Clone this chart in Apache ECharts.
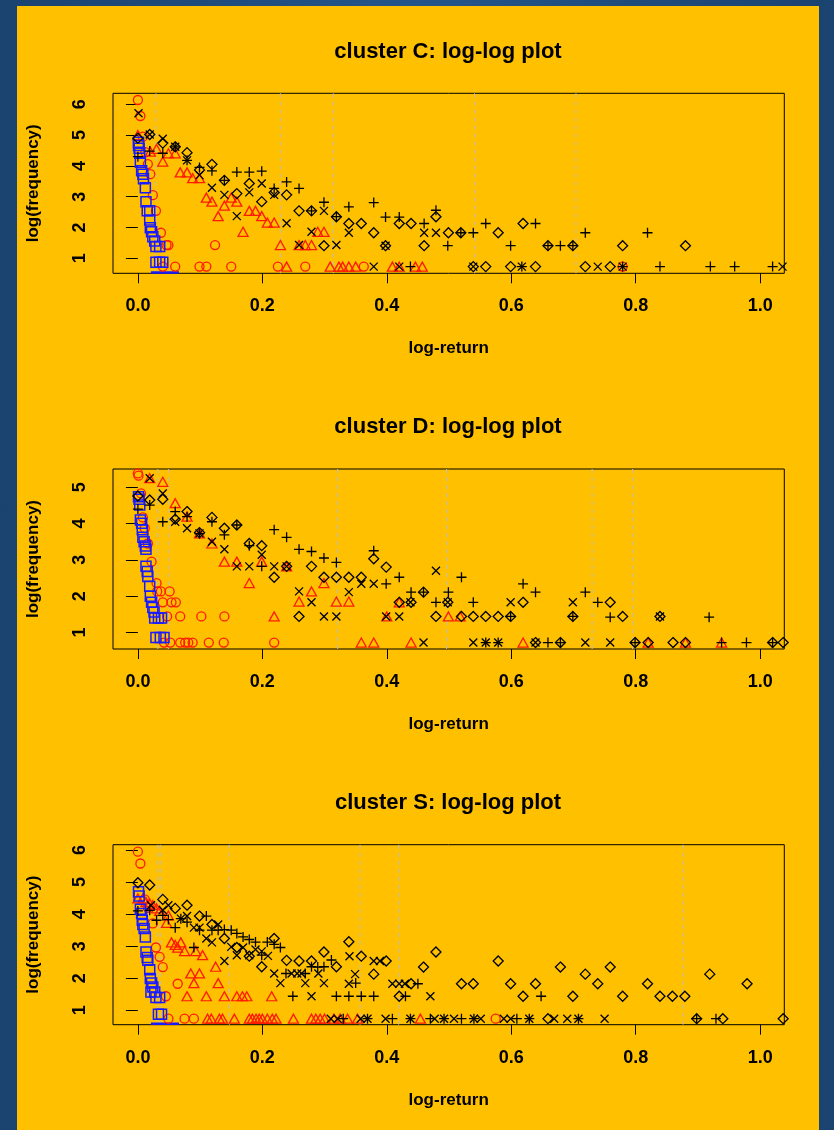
<!DOCTYPE html>
<html>
<head>
<meta charset="utf-8">
<title>cluster log-log plots</title>
<script src="https://cdn.jsdelivr.net/npm/echarts@6/dist/echarts.min.js"></script>
<style>
  html, body { margin: 0; padding: 0; }
  body { width: 834px; height: 1130px; overflow: hidden;
         background: linear-gradient(90deg, #1b4370 0%, #24558a 50%, #1b4370 100%); }
  #panel { position: absolute; left: 17px; top: 6px; width: 802px; height: 1124px; background: #FFC000; }
  #chart { width: 802px; height: 1124px; }
</style>
</head>
<body>
<div id="panel"><div id="chart"></div></div>
<script>
// ---- axes ----
var xTicks = [0, 0.2, 0.4, 0.6, 0.8, 1.0];
var xRange = [-0.04, 1.0388];
var yRangeC = [0.513, 6.357], yTicksC = [1, 2, 3, 4, 5, 6];
var yRangeD = [0.543, 5.503], yTicksD = [1, 2, 3, 4, 5];
var yRangeS = [0.553, 6.166], yTicksS = [1, 2, 3, 4, 5, 6];
var titles = ['cluster C: log-log plot', 'cluster D: log-log plot', 'cluster S: log-log plot'];

// dashed vertical reference lines (log-return)
var vLinesC = [0.029, 0.229, 0.314, 0.541, 0.704];
var vLinesD = [0.032, 0.049, 0.321, 0.496, 0.730, 0.795];
var vLinesS = [0.032, 0.036, 0.147, 0.357, 0.419, 0.876];

// blue squares at log(1) that are cut by the bottom of the box: x extent
var cBlueClip = [0.021, 0.066];
var sBlueClip = [0.021, 0.066];

// ---- cluster C : [log-return, log(frequency)] ----
var cCircle = [[0.000,6.14],[0.004,5.62],[0.008,4.95],[0.012,4.45],[0.016,4.06],[0.020,3.73],[0.024,3.05],[0.029,2.54],
  [0.037,1.83],[0.046,1.43],[0.049,1.43],[0.124,1.43],[0.040,0.73],[0.060,0.73],[0.099,0.73],[0.110,0.73],[0.150,0.73],
  [0.225,0.73],[0.269,0.73],[0.363,0.73],[0.779,0.73]];
var cTri = [[0.000,5.00],[0.020,4.46],[0.030,4.55],[0.040,4.14],[0.049,4.41],[0.060,4.41],[0.068,3.79],[0.079,3.79],
  [0.088,3.60],[0.099,3.60],[0.110,2.97],[0.119,2.84],[0.129,2.37],[0.139,2.71],[0.150,2.97],[0.159,2.84],[0.169,1.86],
  [0.179,2.54],[0.189,2.54],[0.199,2.37],[0.208,2.16],[0.219,2.16],[0.229,1.43],[0.239,0.73],[0.259,1.43],[0.269,1.43],
  [0.279,1.43],[0.289,1.86],[0.299,1.86],[0.309,0.73],[0.323,0.73],[0.329,0.73],[0.339,0.73],[0.350,0.73],[0.409,0.73],
  [0.420,0.73],[0.446,0.73],[0.457,0.73]];
var cSquare = [[0.001,4.77],[0.001,4.66],[0.002,4.57],[0.003,4.41],[0.004,4.12],[0.006,3.84],[0.008,3.73],[0.009,3.58],
  [0.012,3.29],[0.013,2.84],[0.015,2.54],[0.019,2.54],[0.019,2.24],[0.020,1.99],[0.022,1.86],[0.024,1.70],[0.027,1.56],
  [0.029,1.38],[0.035,1.38],[0.029,0.87],[0.035,0.87],[0.040,0.87]];
var cPlus = [[0.000,4.30],[0.019,4.48],[0.040,4.41],[0.060,4.62],[0.079,4.18],[0.099,3.95],[0.119,3.84],[0.139,3.53],
  [0.159,3.80],[0.179,3.80],[0.199,3.83],[0.219,3.27],[0.239,3.48],[0.259,3.27],[0.279,2.54],[0.299,2.82],[0.319,2.35],
  [0.339,2.67],[0.379,2.81],[0.398,2.34],[0.420,2.34],[0.460,2.13],[0.479,2.56],[0.498,1.41],[0.519,1.83],[0.539,1.83],
  [0.559,2.13],[0.599,1.41],[0.639,2.13],[0.659,1.41],[0.679,1.41],[0.699,1.41],[0.719,1.83],[0.819,1.83],[0.438,0.73],
  [0.617,0.73],[0.779,0.73],[0.839,0.73],[0.920,0.73],[0.959,0.73],[1.020,0.73]];
var cCross = [[0.001,5.71],[0.019,5.02],[0.040,4.88],[0.060,4.62],[0.079,4.18],[0.099,3.70],[0.119,3.29],[0.139,3.06],
  [0.159,2.37],[0.179,3.14],[0.199,3.43],[0.219,3.06],[0.239,2.14],[0.259,1.43],[0.279,1.86],[0.299,2.54],[0.319,1.43],
  [0.339,1.83],[0.398,1.41],[0.460,1.83],[0.479,1.83],[0.379,0.73],[0.420,0.73],[0.539,0.73],[0.617,0.73],[0.739,0.73],
  [0.779,0.73],[1.036,0.73]];
var cDiamond = [[0.000,4.90],[0.019,5.02],[0.040,4.74],[0.060,4.62],[0.079,4.43],[0.099,3.87],[0.119,4.05],[0.139,3.53],
  [0.159,3.10],[0.179,3.43],[0.199,2.84],[0.219,3.14],[0.239,3.06],[0.259,2.54],[0.279,2.54],[0.299,1.41],[0.319,2.35],
  [0.339,2.13],[0.359,2.13],[0.379,1.83],[0.398,1.41],[0.420,2.13],[0.439,2.13],[0.460,1.41],[0.479,2.35],[0.499,1.83],
  [0.519,1.83],[0.579,1.83],[0.619,2.13],[0.659,1.41],[0.699,1.41],[0.779,1.41],[0.880,1.41],[0.539,0.73],[0.559,0.73],
  [0.599,0.73],[0.639,0.73],[0.719,0.73],[0.759,0.73]];

// ---- cluster D ----
var dCircle = [[0.000,5.38],[0.001,5.32],[0.005,4.83],[0.008,4.17],[0.011,3.87],[0.016,3.45],[0.022,2.95],[0.030,2.36],
  [0.031,2.13],[0.037,2.13],[0.051,2.13],[0.040,1.83],[0.054,1.83],[0.061,1.83],[0.047,1.44],[0.068,1.44],[0.102,1.44],
  [0.139,1.44],[0.042,0.72],[0.052,0.72],[0.068,0.72],[0.076,0.72],[0.081,0.72],[0.088,0.72],[0.114,0.72],[0.138,0.72],
  [0.219,0.72]];
var dTri = [[0.019,5.25],[0.040,5.15],[0.060,4.56],[0.079,4.19],[0.099,3.73],[0.119,3.45],[0.139,2.95],[0.159,2.95],
  [0.179,2.36],[0.199,2.95],[0.219,1.44],[0.239,2.82],[0.259,1.85],[0.279,2.13],[0.299,2.36],[0.319,1.85],[0.339,1.85],
  [0.359,0.72],[0.379,0.72],[0.400,1.44],[0.420,1.83],[0.439,0.72],[0.499,1.44],[0.518,1.44],[0.619,0.72],[0.820,0.72],
  [0.880,0.72],[0.938,0.72]];
var dSquare = [[0.001,4.74],[0.002,4.67],[0.003,4.51],[0.004,4.10],[0.006,4.01],[0.007,3.83],[0.008,3.62],[0.010,3.50],
  [0.012,3.38],[0.013,3.29],[0.013,2.82],[0.015,2.68],[0.016,2.54],[0.019,2.27],[0.020,2.00],[0.022,1.83],[0.024,1.69],
  [0.026,1.56],[0.027,1.40],[0.033,1.40],[0.038,1.40],[0.029,0.86],[0.036,0.86],[0.042,0.86]];
var dPlus = [[0.000,4.40],[0.019,4.51],[0.040,4.05],[0.060,4.33],[0.079,4.19],[0.099,3.72],[0.119,4.05],[0.139,3.69],
  [0.159,3.96],[0.179,3.39],[0.199,2.82],[0.219,3.83],[0.239,3.62],[0.259,3.29],[0.279,3.23],[0.299,3.05],[0.319,2.93],
  [0.379,3.25],[0.399,2.34],[0.420,2.52],[0.439,2.11],[0.459,2.11],[0.479,1.83],[0.499,2.11],[0.520,2.52],[0.539,1.83],
  [0.599,1.44],[0.619,2.34],[0.639,2.11],[0.699,1.44],[0.719,2.11],[0.739,1.83],[0.759,1.42],[0.918,1.42],[0.559,0.72],
  [0.579,0.72],[0.659,0.72],[0.679,0.72],[0.799,0.72],[0.938,0.72],[0.978,0.72],[1.020,0.72]];
var dCross = [[0.019,5.25],[0.040,4.83],[0.060,4.05],[0.079,3.87],[0.099,3.73],[0.119,3.50],[0.139,3.29],[0.159,2.82],
  [0.179,2.82],[0.199,3.14],[0.219,2.82],[0.239,2.82],[0.259,2.13],[0.279,1.83],[0.299,1.44],[0.319,1.44],[0.339,2.11],
  [0.359,2.34],[0.379,2.34],[0.399,1.44],[0.420,1.44],[0.438,1.83],[0.479,2.70],[0.498,1.83],[0.599,1.83],[0.699,1.83],
  [0.839,1.44],[0.459,0.72],[0.539,0.72],[0.559,0.72],[0.579,0.72],[0.639,0.72],[0.719,0.72],[0.759,0.72]];
var dDiamond = [[0.000,4.76],[0.019,4.65],[0.040,4.67],[0.060,4.12],[0.079,4.33],[0.099,3.75],[0.119,4.17],[0.139,3.87],
  [0.159,3.96],[0.179,3.45],[0.199,3.39],[0.219,2.52],[0.239,2.82],[0.259,1.44],[0.279,2.82],[0.299,2.52],[0.319,2.52],
  [0.339,2.52],[0.359,2.52],[0.379,3.03],[0.399,2.80],[0.420,1.83],[0.439,1.83],[0.459,2.11],[0.479,1.44],[0.498,1.83],
  [0.520,1.44],[0.539,1.44],[0.559,1.44],[0.579,1.44],[0.599,1.44],[0.619,1.83],[0.699,1.44],[0.759,1.83],[0.779,1.44],
  [0.839,1.44],[0.639,0.72],[0.679,0.72],[0.799,0.72],[0.820,0.72],[0.860,0.72],[0.880,0.72],[1.020,0.72],[1.037,0.72]];

// ---- cluster S ----
var sCircle = [[0.000,5.95],[0.004,5.58],[0.011,4.46],[0.016,4.20],[0.024,3.71],[0.029,2.96],[0.035,2.67],[0.040,2.35],
  [0.064,1.83],[0.045,1.44],[0.049,0.74],[0.075,0.74],[0.090,0.74],[0.575,0.74]];
var sTri = [[0.000,4.49],[0.008,4.49],[0.013,4.38],[0.019,4.33],[0.024,4.28],[0.030,4.18],[0.035,4.10],[0.046,3.73],
  [0.049,3.96],[0.054,3.12],[0.060,3.04],[0.064,2.96],[0.069,3.12],[0.075,2.85],[0.093,2.85],[0.104,2.72],[0.125,2.36],
  [0.085,2.15],[0.099,2.15],[0.090,1.85],[0.129,1.85],[0.079,1.44],[0.110,1.44],[0.139,1.44],[0.159,1.44],[0.168,1.44],
  [0.175,1.44],[0.215,1.44],[0.112,0.74],[0.118,0.74],[0.131,0.74],[0.136,0.74],[0.155,0.74],[0.179,0.74],[0.184,0.74],
  [0.190,0.74],[0.195,0.74],[0.200,0.74],[0.208,0.74],[0.216,0.74],[0.222,0.74],[0.250,0.74],[0.279,0.74],[0.286,0.74],
  [0.293,0.74],[0.300,0.74],[0.315,0.74],[0.325,0.74],[0.337,0.74],[0.353,0.74],[0.454,0.74]];
var sSquare = [[0.001,4.70],[0.002,4.57],[0.004,4.15],[0.006,4.02],[0.007,3.81],[0.008,3.68],[0.010,3.55],[0.012,3.29],
  [0.013,2.82],[0.015,2.65],[0.016,2.56],[0.019,2.27],[0.020,1.99],[0.022,1.85],[0.024,1.73],[0.021,1.57],[0.027,1.57],
  [0.029,1.40],[0.035,1.40],[0.033,0.875],[0.038,0.875]];
var sPlus = [[0.000,4.10],[0.019,4.12],[0.030,3.81],[0.040,3.96],[0.049,3.83],[0.060,3.58],[0.069,3.86],[0.079,3.75],
  [0.090,2.96],[0.099,3.50],[0.110,3.94],[0.119,3.50],[0.129,3.50],[0.139,3.52],[0.150,3.50],[0.159,3.40],[0.169,3.29],
  [0.179,3.21],[0.189,3.13],[0.199,2.72],[0.208,3.13],[0.219,3.06],[0.229,2.96],[0.238,2.15],[0.249,1.44],[0.269,2.15],
  [0.279,2.36],[0.289,2.35],[0.299,2.36],[0.311,2.57],[0.319,1.44],[0.350,1.85],[0.339,1.44],[0.359,1.44],[0.379,1.44],
  [0.430,1.44],[0.450,1.83],[0.648,1.44],[0.330,0.74],[0.369,0.74],[0.409,0.74],[0.438,0.74],[0.470,0.74],[0.492,0.74],
  [0.520,0.74],[0.540,0.74],[0.609,0.74],[0.629,0.74],[0.708,0.74],[0.898,0.74],[0.929,0.74]];
var sCross = [[0.021,4.28],[0.040,4.13],[0.049,4.28],[0.069,3.86],[0.079,3.94],[0.090,3.58],[0.099,3.58],[0.110,3.24],
  [0.119,3.12],[0.129,3.68],[0.139,2.54],[0.150,2.98],[0.159,2.72],[0.169,2.96],[0.179,2.72],[0.189,2.90],[0.199,2.84],
  [0.209,2.70],[0.219,2.15],[0.229,1.85],[0.247,2.15],[0.256,2.15],[0.263,2.15],[0.269,1.85],[0.279,1.44],[0.290,2.15],
  [0.299,1.85],[0.340,2.69],[0.349,2.13],[0.339,1.83],[0.379,2.54],[0.389,2.54],[0.409,1.83],[0.420,1.83],[0.429,1.83],
  [0.470,1.44],[0.310,0.74],[0.321,0.74],[0.358,0.74],[0.369,0.74],[0.398,0.74],[0.438,0.74],[0.477,0.74],[0.492,0.74],
  [0.508,0.74],[0.540,0.74],[0.551,0.74],[0.588,0.74],[0.599,0.74],[0.629,0.74],[0.669,0.74],[0.690,0.74],[0.708,0.74],
  [0.750,0.74]];
var sDiamond = [[0.000,4.98],[0.019,4.91],[0.040,4.46],[0.060,4.18],[0.079,4.28],[0.099,3.94],[0.119,3.68],[0.139,3.24],
  [0.159,2.96],[0.179,2.69],[0.199,2.36],[0.219,3.24],[0.239,2.56],[0.259,2.54],[0.279,2.54],[0.299,2.82],[0.319,2.36],
  [0.339,3.14],[0.359,2.69],[0.379,2.13],[0.399,2.54],[0.420,1.44],[0.439,1.83],[0.459,2.35],[0.479,2.82],[0.520,1.83],
  [0.539,1.83],[0.579,2.54],[0.599,1.83],[0.619,1.44],[0.639,1.83],[0.679,2.35],[0.699,1.44],[0.719,2.13],[0.739,1.83],
  [0.759,2.35],[0.779,1.44],[0.819,1.83],[0.839,1.44],[0.859,1.44],[0.879,1.44],[0.919,2.13],[0.979,1.83],[0.659,0.74],
  [0.898,0.74],[0.940,0.74],[1.037,0.74]];

var FONT = '"Liberation Sans", Arial, Helvetica, sans-serif';
var RED = '#ff1a00', BLUE = '#1a1aff', BLACK = '#000000';
var PLUS = 'path://M5,0L5,10M0,5L10,5';
var CROSS = 'path://M0,0L10,10M10,0L0,10';

var panels = [
  { yr: yRangeC, yt: yTicksC, vl: vLinesC, clip: cBlueClip,
    s: [cCircle, cTri, cSquare, cPlus, cCross, cDiamond] },
  { yr: yRangeD, yt: yTicksD, vl: vLinesD, clip: null,
    s: [dCircle, dTri, dSquare, dPlus, dCross, dDiamond] },
  { yr: yRangeS, yt: yTicksS, vl: vLinesS, clip: sBlueClip,
    s: [sCircle, sTri, sSquare, sPlus, sCross, sDiamond] }
];
var marks = [
  { symbol: 'circle', size: 9, color: RED },
  { symbol: 'triangle', size: [10, 9], color: RED },
  { symbol: 'rect', size: 10, color: BLUE },
  { symbol: PLUS, size: 10, color: BLACK },
  { symbol: CROSS, size: 8, color: BLACK },
  { symbol: 'diamond', size: 10, color: BLACK }
];

var grids = [], xAxes = [], yAxes = [], series = [], graphics = [];
var step = 375.7;
panels.forEach(function (p, i) {
  grids.push({ left: 94.7, width: 672.6, top: 87.3 + i * step, height: 180,
    show: true, borderColor: '#000', borderWidth: 1, backgroundColor: 'transparent' });
  xAxes.push({ gridIndex: i, type: 'value', min: xRange[0], max: xRange[1],
    name: 'log-return', nameLocation: 'middle', nameGap: 67,
    nameTextStyle: { fontFamily: FONT, fontWeight: 'bold', fontSize: 17, color: '#000' },
    axisLine: { show: false }, splitLine: { show: false },
    axisTick: { show: true, length: 10, customValues: xTicks, lineStyle: { color: '#000' } },
    axisLabel: { customValues: xTicks, margin: 24, fontFamily: FONT, fontWeight: 'bold', fontSize: 18, color: '#000',
      formatter: function (v) { return v.toFixed(1); } } });
  yAxes.push({ gridIndex: i, type: 'value', min: p.yr[0], max: p.yr[1],
    name: 'log(frequency)', nameLocation: 'middle', nameGap: 71, nameRotate: 90,
    nameTextStyle: { fontFamily: FONT, fontWeight: 'bold', fontSize: 17, color: '#000' },
    axisLine: { show: false }, splitLine: { show: false },
    axisTick: { show: true, length: 12, customValues: p.yt, lineStyle: { color: '#000' } },
    axisLabel: { customValues: p.yt, rotate: 90, margin: 24, fontFamily: FONT, fontWeight: 'bold', fontSize: 18, color: '#000' } });

  // dashed grey verticals, one short line series each
  p.vl.forEach(function (v) {
    series.push({ type: 'line', xAxisIndex: i, yAxisIndex: i, silent: true, showSymbol: false, z: 1,
      lineStyle: { color: '#bebebe', type: [4, 4], width: 1 },
      data: [[v, p.yr[0]], [v, p.yr[1]]] });
  });
  p.s.forEach(function (d, k) {
    var m = marks[k];
    series.push({ type: 'scatter', xAxisIndex: i, yAxisIndex: i, data: d, silent: true,
      symbol: m.symbol, symbolSize: m.size, z: 2,
      itemStyle: { color: 'rgba(0,0,0,0)', borderColor: m.color, borderWidth: k === 2 ? 1.5 : 1.3, opacity: 1 } });
  });
  if (p.clip) {
    series.push({ type: 'line', xAxisIndex: i, yAxisIndex: i, silent: true, showSymbol: false, z: 2,
      lineStyle: { color: BLUE, width: 2.5 },
      data: [[p.clip[0], p.yr[0] + 0.03], [p.clip[1], p.yr[0] + 0.03]] });
  }
  graphics.push({ type: 'text', x: 431, y: 45.7 + i * step,
    style: { text: titles[i], font: 'bold 22px ' + FONT, fill: '#000', textAlign: 'center', textVerticalAlign: 'middle' } });
});

var chart = echarts.init(document.getElementById('chart'));
chart.setOption({
  animation: false,
  grid: grids, xAxis: xAxes, yAxis: yAxes, series: series, graphic: graphics
});
</script>
</body>
</html>
